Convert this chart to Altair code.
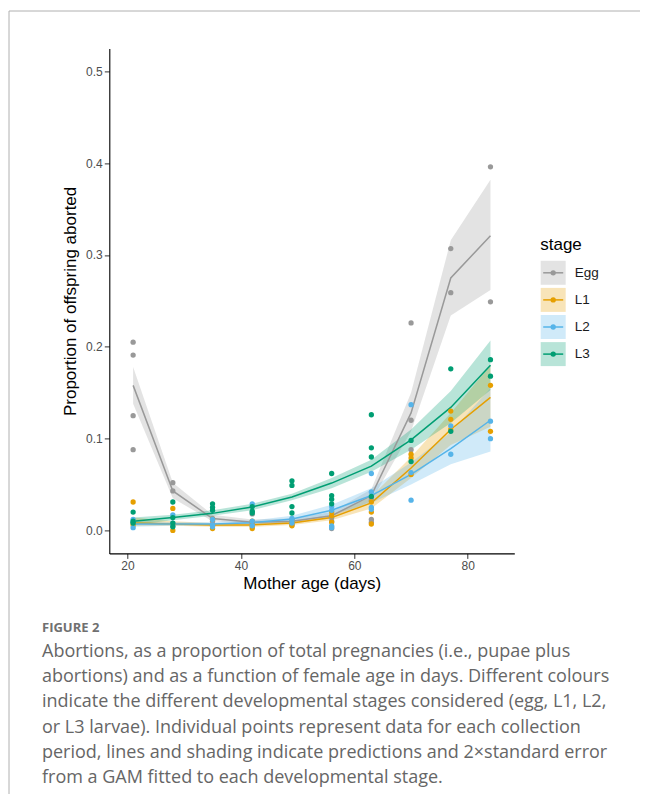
import altair as alt
import pandas as pd

stages = ["Egg", "L1", "L2", "L3"]
colors = ["#999999", "#E69F00", "#56B4E9", "#009E73"]
ages = [21, 28, 35, 42, 49, 56, 63, 70, 77, 84]

# observed proportions per age (one inner list per age)
egg_pts = [[0.205, 0.191, 0.125, 0.088], [0.052, 0.043], [0.013, 0.010, 0.006],
           [0.018, 0.008, 0.006], [0.012, 0.009, 0.006], [0.014, 0.010, 0.004, 0.002],
           [0.036, 0.033, 0.012, 0.009], [0.226, 0.120, 0.088], [0.307, 0.259], [0.396, 0.249]]
l1_pts = [[0.031, 0.008, 0.006], [0.024, 0.006, 0.0], [0.012, 0.005, 0.002],
          [0.010, 0.004, 0.002], [0.010, 0.007, 0.005], [0.020, 0.016, 0.009],
          [0.031, 0.020, 0.007], [0.083, 0.079, 0.061], [0.130, 0.121, 0.110], [0.158, 0.108]]
l2_pts = [[0.012, 0.009, 0.003], [0.017, 0.008, 0.005], [0.012, 0.006, 0.004],
          [0.029, 0.010, 0.005], [0.013, 0.011, 0.008], [0.026, 0.022, 0.005, 0.003],
          [0.062, 0.042, 0.025, 0.023], [0.137, 0.063, 0.033], [0.114, 0.083], [0.119, 0.100]]
l3_pts = [[0.020, 0.010, 0.008], [0.031, 0.014, 0.008, 0.004], [0.029, 0.025, 0.022],
          [0.026, 0.021, 0.019], [0.054, 0.049, 0.026, 0.019], [0.062, 0.038, 0.034, 0.029],
          [0.126, 0.090, 0.080, 0.037], [0.098, 0.075], [0.176, 0.108], [0.186, 0.168]]

# GAM predictions and +/- 2 SE bounds
egg_fit = [0.158, 0.043, 0.013, 0.009, 0.010, 0.016, 0.038, 0.128, 0.275, 0.321]
egg_lo = [0.138, 0.035, 0.010, 0.007, 0.008, 0.013, 0.032, 0.108, 0.234, 0.262]
egg_hi = [0.178, 0.052, 0.017, 0.012, 0.013, 0.020, 0.045, 0.150, 0.316, 0.382]
l1_fit = [0.008, 0.007, 0.006, 0.006, 0.008, 0.014, 0.030, 0.068, 0.110, 0.145]
l1_lo = [0.005, 0.005, 0.004, 0.004, 0.006, 0.011, 0.024, 0.057, 0.093, 0.113]
l1_hi = [0.014, 0.010, 0.008, 0.008, 0.010, 0.017, 0.037, 0.080, 0.128, 0.180]
l2_fit = [0.007, 0.007, 0.007, 0.0085, 0.0125, 0.022, 0.038, 0.061, 0.089, 0.120]
l2_lo = [0.004, 0.005, 0.005, 0.006, 0.009, 0.017, 0.030, 0.050, 0.072, 0.086]
l2_hi = [0.010, 0.009, 0.009, 0.011, 0.016, 0.028, 0.046, 0.074, 0.107, 0.155]
l3_fit = [0.010, 0.014, 0.0186, 0.0256, 0.0365, 0.0516, 0.070, 0.0986, 0.134, 0.180]
l3_lo = [0.006, 0.011, 0.016, 0.022, 0.033, 0.046, 0.064, 0.088, 0.117, 0.153]
l3_hi = [0.014, 0.017, 0.022, 0.029, 0.040, 0.057, 0.077, 0.110, 0.152, 0.207]

caption_head = "FIGURE 2"
caption_lines = [
    "Abortions, as a proportion of total pregnancies (i.e., pupae plus",
    "abortions) and as a function of female age in days. Different colours",
    "indicate the different developmental stages considered (egg, L1, L2,",
    "or L3 larvae). Individual points represent data for each collection",
    "period, lines and shading indicate predictions and 2\u00d7standard error",
    "from a GAM fitted to each developmental stage.",
]

pts_all = [egg_pts, l1_pts, l2_pts, l3_pts]
fits = [(egg_fit, egg_lo, egg_hi), (l1_fit, l1_lo, l1_hi), (l2_fit, l2_lo, l2_hi), (l3_fit, l3_lo, l3_hi)]

rows = []
for s, pts in zip(stages, pts_all):
    for a, vals in zip(ages, pts):
        for v in vals:
            rows.append({"stage": s, "age": a, "prop": v})
points_df = pd.DataFrame(rows)

frows = []
for s, (f, lo, hi) in zip(stages, fits):
    for a, fv, lv, hv in zip(ages, f, lo, hi):
        frows.append({"stage": s, "age": a, "fit": fv, "lo": lv, "hi": hv})
fit_df = pd.DataFrame(frows)

W, H = 405, 505
xs = alt.Scale(domain=[16.8, 88.2], nice=False, zero=False)
ys = alt.Scale(domain=[-0.025, 0.525], nice=False, zero=False)
cs = alt.Scale(domain=stages, range=colors)

x_axis = alt.Axis(values=[20, 40, 60, 80], title="Mother age (days)", grid=False,
                  domainColor="black", tickColor="#333333", tickSize=5, labelPadding=2,
                  labelColor="#4d4d4d", labelFontSize=12, labelFont="Liberation Sans",
                  titleFont="Liberation Sans", titleFontSize=17, titleFontWeight="normal",
                  titleColor="black", titlePadding=4)
y_axis = alt.Axis(values=[0, 0.1, 0.2, 0.3, 0.4, 0.5], format=".1f",
                  title="Proportion of offspring aborted", grid=False,
                  domainColor="black", tickColor="#333333", tickSize=5, labelPadding=2,
                  labelColor="#4d4d4d", labelFontSize=12, labelFont="Liberation Sans",
                  titleFont="Liberation Sans", titleFontSize=17, titleFontWeight="normal",
                  titleColor="black", titlePadding=6)

base_fit = alt.Chart(fit_df)
bands = base_fit.mark_area(opacity=0.28).encode(
    x=alt.X("age:Q", scale=xs, axis=x_axis),
    y=alt.Y("lo:Q", scale=ys, axis=y_axis),
    y2="hi:Q",
    color=alt.Color("stage:N", scale=cs, legend=None),
    detail="stage:N",
)
lines = base_fit.mark_line(strokeWidth=1.5).encode(
    x=alt.X("age:Q", scale=xs),
    y=alt.Y("fit:Q", scale=ys),
    color=alt.Color("stage:N", scale=cs, legend=None),
    detail="stage:N",
)
dots = alt.Chart(points_df).mark_circle(size=28, opacity=1).encode(
    x=alt.X("age:Q", scale=xs),
    y=alt.Y("prop:Q", scale=ys),
    color=alt.Color("stage:N", scale=cs, legend=None),
)

layers = [bands, lines, dots]

# Manual legend (ggplot-style keys: shaded box + line + dot)
one = pd.DataFrame({"k": [0]})
lx0, ly0, pitch = 431.4, 224.4, 27.1
layers.append(alt.Chart(one).mark_text(align="left", baseline="middle", font="Liberation Sans",
                                       fontSize=17, color="black").encode(
    x=alt.value(lx0 - 0.5), y=alt.value(ly0 - 27.5), text=alt.value("stage")))
for i, s in enumerate(stages):
    yc = ly0 + i * pitch
    layers.append(alt.Chart(one).mark_rect(opacity=0.28).encode(
        x=alt.value(lx0), x2=alt.value(lx0 + 25), y=alt.value(yc - 12), y2=alt.value(yc + 12),
        color=alt.value(colors[i])))
    layers.append(alt.Chart(one).mark_rule(strokeWidth=1.5).encode(
        x=alt.value(lx0 + 2.5), x2=alt.value(lx0 + 22.5), y=alt.value(yc),
        color=alt.value(colors[i])))
    layers.append(alt.Chart(one).mark_circle(size=28, opacity=1).encode(
        x=alt.value(lx0 + 12.5), y=alt.value(yc), color=alt.value(colors[i])))
    layers.append(alt.Chart(one).mark_text(align="left", baseline="middle", font="Liberation Sans",
                                           fontSize=13.5, color="#1a1a1a").encode(
        x=alt.value(lx0 + 34), y=alt.value(yc), text=alt.value(s)))

# Caption
ox, oy = 109.3, 48.4
layers.append(alt.Chart(one).mark_text(align="left", baseline="middle", font="Open Sans",
                                       fontSize=13, fontWeight="bold", color="#707070").encode(
    x=alt.value(42 - ox), y=alt.value(628 - oy), text=alt.value(caption_head)))
for j, line in enumerate(caption_lines):
    layers.append(alt.Chart(one).mark_text(align="left", baseline="middle", font="Open Sans",
                                           fontSize=18, color="#666666").encode(
        x=alt.value(42 - ox), y=alt.value(652 + 25.2 * j - oy), text=alt.value(line)))

# Frame lines
layers.append(alt.Chart(one).mark_rule(strokeWidth=1, color="#b0b0b0").encode(
    x=alt.value(9 - ox), x2=alt.value(640 - ox), y=alt.value(11 - oy)))
layers.append(alt.Chart(one).mark_rule(strokeWidth=1, color="#b0b0b0").encode(
    x=alt.value(9 - ox), y=alt.value(11 - oy), y2=alt.value(794 - oy)))

chart = alt.layer(*layers).properties(
    width=W, height=H,
    autosize=alt.AutoSizeParams(type="none"),
    padding={"left": ox - 8, "top": oy - 8, "right": 640 - ox - W, "bottom": 794 - oy - H},
).configure_view(stroke=None).configure_axis(domainWidth=1.1, tickWidth=1)

chart.save("out.html", embed_options={"renderer": "svg", "actions": False})
